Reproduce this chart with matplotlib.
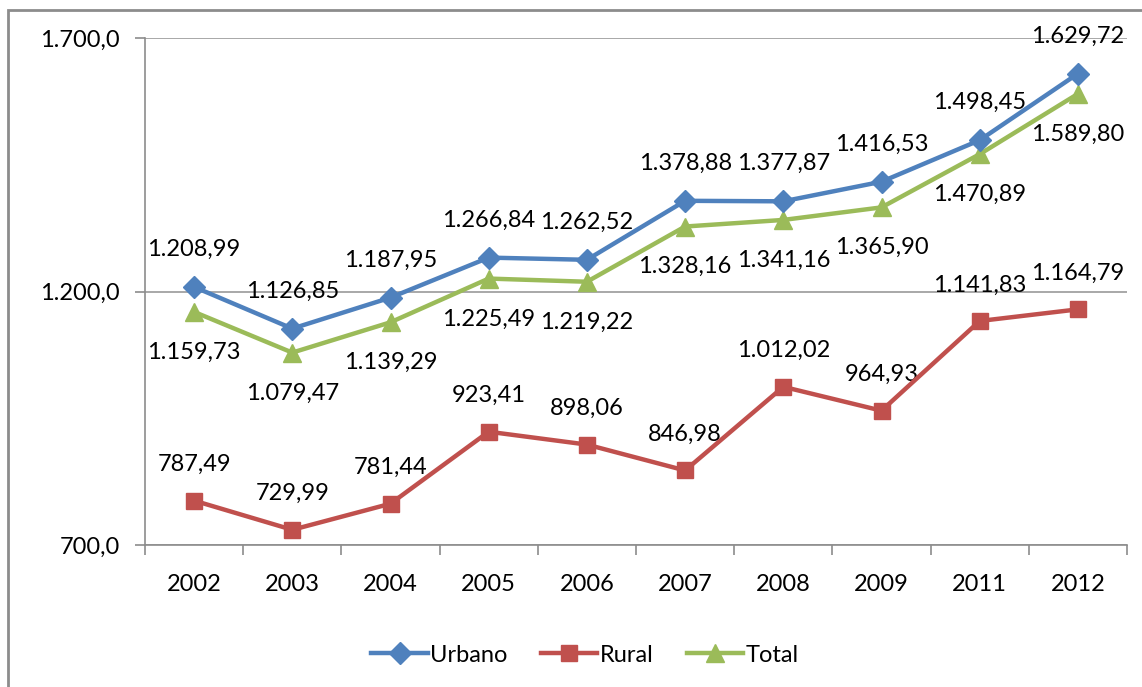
import matplotlib
matplotlib.use("Agg")
import matplotlib.pyplot as plt
from matplotlib.patches import Rectangle
from matplotlib.lines import Line2D

years = ["2002", "2003", "2004", "2005", "2006", "2007", "2008", "2009", "2011", "2012"]
urbano = [1208.99, 1126.85, 1187.95, 1266.84, 1262.52, 1378.88, 1377.87, 1416.53, 1498.45, 1629.72]
rural = [787.49, 729.99, 781.44, 923.41, 898.06, 846.98, 1012.02, 964.93, 1141.83, 1164.79]
total = [1159.73, 1079.47, 1139.29, 1225.49, 1219.22, 1328.16, 1341.16, 1365.90, 1470.89, 1589.80]
yticks = [700, 1200, 1700]

def br(v, d=2):
    s = f"{v:,.{d}f}"
    return s.replace(",", "X").replace(".", ",").replace("X", ".")

plt.rcParams['font.family'] = ['Lato', 'DejaVu Sans']
fig = plt.figure(figsize=(11.42, 6.87), dpi=100)
W, H = 1142, 687
# outer frame
fig.patches.append(Rectangle((8 / W, -0.1), 1.2, 1 - 10 / H + 0.1, transform=fig.transFigure,
                             fill=False, edgecolor='#8c8c8c', linewidth=2.0))

ax = fig.add_axes([145 / W, 1 - 545 / H, (1127 - 145) / W, (545 - 38) / H])
x = list(range(len(years)))
blue, red, green = '#4F81BD', '#C0504D', '#9BBB59'
ax.plot(x, urbano, color=blue, lw=3.2, marker='D', ms=11, label='Urbano', zorder=4)
ax.plot(x, rural, color=red, lw=3.2, marker='s', ms=12, label='Rural', zorder=4)
ax.plot(x, total, color=green, lw=3.2, marker='^', ms=13, label='Total', zorder=3)

fs = 17
for xi, v in zip(x, urbano):
    ax.annotate(br(v), (xi, v), xytext=(0, 27), textcoords='offset points', ha='center', va='center', fontsize=fs)
for xi, v in zip(x, rural):
    ax.annotate(br(v), (xi, v), xytext=(0, 26), textcoords='offset points', ha='center', va='center', fontsize=fs)
for xi, v in zip(x, total):
    ax.annotate(br(v), (xi, v), xytext=(0, -29), textcoords='offset points', ha='center', va='center', fontsize=fs)

ax.set_xlim(-0.5, len(years) - 0.5)
ax.set_ylim(700, 1700)
ax.set_yticks(yticks)
ax.set_yticklabels([br(v, 1) for v in yticks], fontsize=fs)
ax.set_xticks(x)
ax.set_xticklabels(years, fontsize=fs)
ax.set_xticks([i - 0.5 for i in range(len(years) + 1)], minor=True)
ax.tick_params(axis='x', which='major', length=0, pad=21)
ax.tick_params(axis='x', which='minor', length=7, color='#8c8c8c', width=1.2)
ax.tick_params(axis='y', length=7, color='#8c8c8c', width=1.2, pad=11)
ax.yaxis.grid(True, color='#9a9a9a', lw=1.2)
ax.set_axisbelow(True)
for s in ['top', 'right']:
    ax.spines[s].set_visible(False)
for s in ['left', 'bottom']:
    ax.spines[s].set_color('#8c8c8c')
    ax.spines[s].set_linewidth(1.2)

handles = [Line2D([], [], color=blue, lw=3.2, marker='D', ms=11),
           Line2D([], [], color=red, lw=3.2, marker='s', ms=12),
           Line2D([], [], color=green, lw=3.2, marker='^', ms=13)]
fig.legend(handles, ['Urbano', 'Rural', 'Total'], loc='center', bbox_to_anchor=(585 / W, 1 - 655 / H),
           ncol=3, frameon=False, fontsize=fs, handlelength=2.4, handletextpad=0.1, columnspacing=1.4)

fig.savefig("out.png", dpi=100)
